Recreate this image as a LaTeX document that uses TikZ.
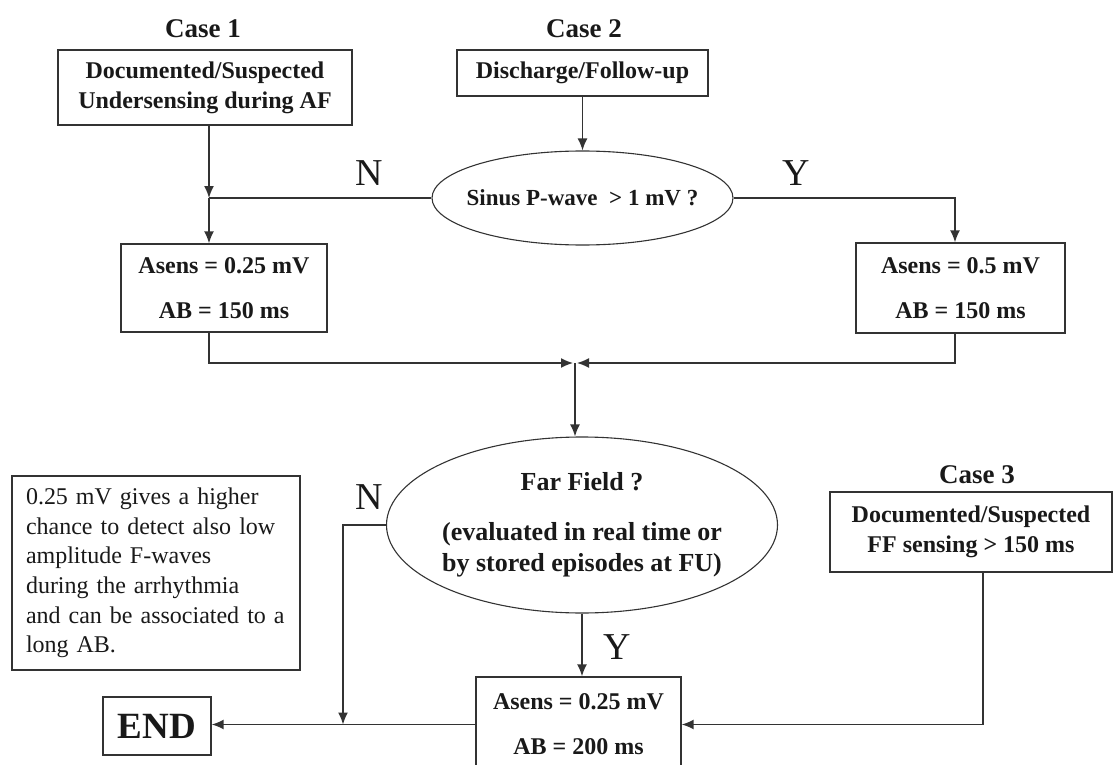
\documentclass[tikz,border=0pt]{standalone}
\usepackage{fontspec}
\setmainfont{Liberation Serif}
\usetikzlibrary{shapes.geometric,arrows.meta}
\begin{document}
\begin{tikzpicture}[x=1pt,y=-1pt,
  box/.style={draw=black!80, line width=1.4pt, inner sep=0pt, align=center, text=black!90,
    font=\bfseries\fontsize{24}{30}\selectfont},
  ell/.style={ellipse, draw=black!80, line width=1.1pt, inner xsep=-30pt, inner ysep=0pt,
    align=center, text=black!90},
  lbl/.style={font=\bfseries\fontsize{27}{30}\selectfont, inner sep=0pt, text=black!90},
  yn/.style={font=\fontsize{38}{40}\selectfont, inner sep=0pt, text=black!90},
  note/.style={draw=black!80, line width=1.4pt, inner xsep=14pt, inner ysep=0pt, align=left,
    text width=260pt, text=black!90, font=\fontsize{24}{29.6}\selectfont},
  conn/.style={draw=black!80, line width=1.5pt},
  arr/.style={conn, -{Latex[length=12pt,width=10pt]}},
]
\useasboundingbox (0,0) rectangle (1114,765);

% titles
\node[lbl] (t1) at (203,29) {Case 1};
\node[lbl] (t2) at (584,29) {Case 2};
\node[lbl] (t3) at (977,475) {Case 3};

% boxes
\node[box, minimum width=294pt, minimum height=75pt] (b1) at (205,87.5)
  {Documented/Suspected\\Undersensing during AF};
\node[box, minimum width=251pt, minimum height=46pt] (b2) at (582.5,73)
  {Discharge/Follow-up};
\node[ell, minimum width=301pt, minimum height=94pt,
  font=\bfseries\fontsize{23}{26}\selectfont] (e1) at (582.5,198)
  {Sinus P-wave\enspace{}> 1 mV ?};
\node[box, minimum width=206pt, minimum height=88pt] (a1) at (224,288)
  {Asens = 0.25 mV\\[15pt]AB = 150 ms};
\node[box, minimum width=209pt, minimum height=90pt] (a2) at (960.5,288)
  {Asens = 0.5 mV\\[15pt]AB = 150 ms};
\node[ell, minimum width=391pt, minimum height=176pt,
  font=\bfseries\fontsize{26}{31}\selectfont] (e2) at (582,525)
  {Far Field ?\\[19pt](evaluated in real time or\\by stored episodes at FU)};
\node[box, minimum width=282pt, minimum height=80pt] (c3) at (971,532)
  {Documented/Suspected\\FF sensing > 150 ms};
\node[box, minimum width=205pt, minimum height=95pt] (b5) at (578.5,724.5)
  {Asens = 0.25 mV\\[15pt]AB = 200 ms};
\node[box, minimum width=108pt, minimum height=58pt,
  font=\bfseries\fontsize{37}{40}\selectfont] (end) at (157,726) {END};
\node[note, minimum height=194pt] (nt) at (156,573)
  {0.25 mV gives a higher\\chance to detect also low\\amplitude F-waves\\during the arrhythmia\\and can be associated to a\\long AB.};

% Y / N labels
\node[yn] (n1) at (369,173) {N};
\node[yn] (y1) at (796,173) {Y};
\node[yn] (n2) at (369,497) {N};
\node[yn] (y2) at (617,647) {Y};

% junction coordinates
\coordinate (j1) at (209,198);
\coordinate (jr) at (955,198);
\coordinate (m) at (575,363);
\coordinate (ml) at (573,363);
\coordinate (mr) at (577,363);
\coordinate (jn) at (343,724.5);
\coordinate (k) at (983,724.5);

% connectors
\draw[arr] (b2.south) -- (e1.north);
\draw[arr] (j1 |- b1.south) -- (j1);
\draw[conn] (e1.west) -- (j1);
\draw[arr] (j1) -- (j1 |- a1.north);
\draw[arr] (e1.east) -- (jr) -- (jr |- a2.north);
\draw[arr] (j1 |- a1.south) |- (ml);
\draw[arr] (jr |- a2.south) |- (mr);
\draw[arr] (m) -- (m |- e2.north);
\draw[arr] (e2.south) -- (e2.south |- b5.north);
\draw[arr] (e2.west) -| (jn);
\draw[arr] (b5.west) -- (b5.west -| end.east);
\draw[arr] (k |- c3.south) |- (b5.east);
\end{tikzpicture}
\end{document}
